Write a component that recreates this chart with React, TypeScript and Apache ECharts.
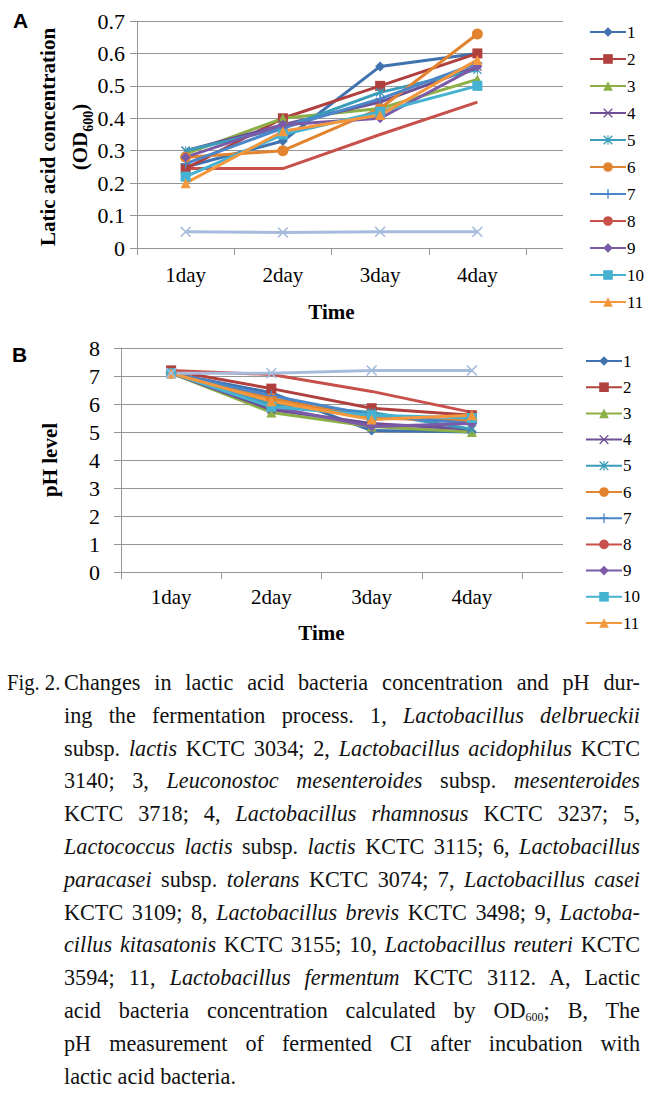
import React, { useEffect, useRef } from "react";
import * as echarts from "echarts";

const categories = ["1day", "2day", "3day", "4day"];
const strainNames = ["1", "2", "3", "4", "5", "6", "7", "8", "9", "10", "11"];
const strainColors = ["#3F72AF", "#B0403D", "#8DB046", "#6E5096", "#3A9DB9", "#E2842F", "#4A86C8", "#C8504B", "#7B5AA8", "#45B2D2", "#F5973C"];
const controlColor = "#A7BCDD";

// A: lactic acid concentration (OD600)
const odValues: number[][] = [
  [0.25, 0.33, 0.56, 0.6],
  [0.245, 0.4, 0.5, 0.6],
  [0.29, 0.4, 0.43, 0.52],
  [0.3, 0.38, 0.45, 0.56],
  [0.3, 0.37, 0.48, 0.55],
  [0.28, 0.3, 0.43, 0.66],
  [0.26, 0.37, 0.46, 0.57],
  [0.245, 0.245, 0.35, 0.45],
  [0.28, 0.38, 0.4, 0.56],
  [0.22, 0.35, 0.42, 0.5],
  [0.2, 0.36, 0.41, 0.58],
];
const odControl = [0.05, 0.048, 0.05, 0.05];

// B: pH level
const phValues: number[][] = [
  [7.1, 6.4, 5.05, 5.0],
  [7.2, 6.55, 5.85, 5.6],
  [7.1, 5.7, 5.2, 5.0],
  [7.1, 5.8, 5.3, 5.1],
  [7.1, 6.0, 5.7, 5.1],
  [7.1, 6.2, 5.5, 5.4],
  [7.1, 6.3, 5.6, 5.3],
  [7.2, 7.05, 6.45, 5.7],
  [7.1, 5.9, 5.2, 5.3],
  [7.1, 5.9, 5.6, 5.5],
  [7.1, 6.1, 5.45, 5.6],
];
const phControl = [7.1, 7.1, 7.2, 7.2];

const odTicks = ["0", "0.1", "0.2", "0.3", "0.4", "0.5", "0.6", "0.7"];

const X_PATH = "path://M1,0 L5,4 L9,0 L10,1 L6,5 L10,9 L9,10 L5,6 L1,10 L0,9 L4,5 L0,1 Z";
const STAR_PATH = "path://M1,0 L5,4 L9,0 L10,1 L6,5 L10,9 L9,10 L5,6 L1,10 L0,9 L4,5 L0,1 Z M4.4,0 L5.6,0 L5.6,10 L4.4,10 Z";
const PLUS_PATH = "path://M4.3,0 L5.7,0 L5.7,4.3 L10,4.3 L10,5.7 L5.7,5.7 L5.7,10 L4.3,10 L4.3,5.7 L0,5.7 L0,4.3 L4.3,4.3 Z";
const strainSymbols = ["diamond", "rect", "triangle", X_PATH, STAR_PATH, "circle", PLUS_PATH, "none", "diamond", "rect", "triangle"];
const strainSizes = [10, 10, 10, 9, 9, 11, 10, 0, 10, 10, 10];

const SERIF = '"Liberation Serif", "Times New Roman", serif';
const GRID_GRAY = "#959595";

function App() {
  const ref = useRef<HTMLDivElement>(null);

  useEffect(() => {
    document.body.style.margin = "0";
    if (!ref.current) return;
    const chart = echarts.init(ref.current, null, { renderer: "svg" });

    const mkSeries = (ai: number, values: number[][], control: number[]) => {
      const s: any[] = values.map((v, i) => ({
        name: strainNames[i],
        type: "line",
        xAxisIndex: ai,
        yAxisIndex: ai,
        data: v,
        symbol: strainSymbols[i],
        symbolSize: strainSizes[i],
        showSymbol: strainSymbols[i] !== "none",
        lineStyle: { width: 3, color: strainColors[i] },
        itemStyle: { color: strainColors[i] },
        emphasis: { disabled: true },
      }));
      s.push({
        name: "control",
        type: "line",
        xAxisIndex: ai,
        yAxisIndex: ai,
        data: control,
        symbol: X_PATH,
        symbolSize: 11,
        lineStyle: { width: 3, color: controlColor },
        itemStyle: { color: controlColor },
        emphasis: { disabled: true },
      });
      return s;
    };

    const hiddenX = (gi: number) => ({ type: "category", gridIndex: gi, data: categories, show: false });
    const dataX = (gi: number, labelMargin: number, nameGap: number) => ({
      type: "category",
      gridIndex: gi,
      data: categories,
      boundaryGap: true,
      axisLine: { lineStyle: { color: GRID_GRAY, width: 1 } },
      axisTick: { show: true, length: 7, lineStyle: { color: GRID_GRAY } },
      axisLabel: { fontFamily: SERIF, fontSize: 21, color: "#000", margin: labelMargin },
      name: "Time",
      nameLocation: "middle",
      nameGap,
      nameTextStyle: { fontFamily: SERIF, fontSize: 21, fontWeight: "bold", color: "#000" },
    });
    const bgY = (gi: number, max: number, interval: number) => ({
      type: "value",
      gridIndex: gi,
      min: 0,
      max,
      interval,
      axisLine: { show: false },
      axisTick: { show: false },
      axisLabel: { show: false },
      splitLine: { show: true, lineStyle: { color: GRID_GRAY, width: 1 } },
    });

    const legendCommon = (left: number, top: number, gap: number) => ({
      data: strainNames,
      orient: "vertical",
      left,
      top,
      itemWidth: 36,
      itemHeight: 12,
      itemGap: gap,
      selectedMode: false,
      textStyle: { fontFamily: SERIF, fontSize: 17, color: "#000", padding: [0, 0, 0, -4] },
    });

    const option: any = {
      animation: false,
      backgroundColor: "#fff",
      grid: [
        { left: 137, top: 21, width: 426, height: 227 },
        { left: 137, top: 21, width: 389, height: 227 },
        { left: 121, top: 348, width: 442, height: 224 },
        { left: 121, top: 348, width: 401, height: 224 },
      ],
      xAxis: [hiddenX(0), dataX(1, 16, 53), hiddenX(2), dataX(3, 14, 50)],
      yAxis: [
        bgY(0, 0.7, 0.1),
        {
          type: "value",
          gridIndex: 1,
          min: 0,
          max: 0.7,
          interval: 0.1,
          axisLine: { show: true, lineStyle: { color: GRID_GRAY } },
          axisTick: { show: true, length: 7, lineStyle: { color: GRID_GRAY } },
          splitLine: { show: false },
          axisLabel: {
            fontFamily: SERIF,
            fontSize: 22,
            color: "#000",
            margin: 12,
            formatter: (v: number) => odTicks[Math.round(v * 10)] ?? String(v),
          },
        },
        bgY(2, 8, 1),
        {
          type: "value",
          gridIndex: 3,
          min: 0,
          max: 8,
          interval: 1,
          axisLine: { show: true, lineStyle: { color: GRID_GRAY } },
          axisTick: { show: true, length: 7, lineStyle: { color: GRID_GRAY } },
          splitLine: { show: false },
          axisLabel: { fontFamily: SERIF, fontSize: 22, color: "#000", margin: 21 },
          name: "pH level",
          nameLocation: "middle",
          nameGap: 61,
          nameRotate: 90,
          nameTextStyle: { fontFamily: SERIF, fontSize: 21, fontWeight: "bold", color: "#000" },
        },
      ],
      legend: [legendCommon(584, 18.5, 10), legendCommon(580, 347.5, 9.2)],
      graphic: [
        {
          type: "text",
          left: 13,
          top: 10,
          style: { text: "A", fontFamily: '"Liberation Sans", Arial, sans-serif', fontSize: 21, fontWeight: "bold", fill: "#000" },
        },
        {
          type: "text",
          left: 12,
          top: 344,
          style: { text: "B", fontFamily: '"Liberation Sans", Arial, sans-serif', fontSize: 21, fontWeight: "bold", fill: "#000" },
        },
        {
          type: "text",
          x: 48,
          y: 137,
          rotation: Math.PI / 2,
          style: {
            text: "Latic acid concentration",
            fontFamily: SERIF,
            fontSize: 21,
            fontWeight: "bold",
            fill: "#000",
            align: "center",
            verticalAlign: "middle",
          },
        },
        {
          type: "text",
          x: 78,
          y: 137,
          rotation: Math.PI / 2,
          style: {
            text: "{a|(OD}{b|600}{a|)}",
            align: "center",
            verticalAlign: "middle",
            rich: {
              a: { fontFamily: SERIF, fontSize: 21, fontWeight: "bold", fill: "#000", lineHeight: 24, verticalAlign: "bottom" },
              b: { fontFamily: SERIF, fontSize: 14, fontWeight: "bold", fill: "#000", lineHeight: 24, verticalAlign: "bottom", padding: [0, 0, -5, 0] },
            },
          },
        },
      ],
      series: [...mkSeries(1, odValues, odControl), ...mkSeries(3, phValues, phControl)],
    };

    chart.setOption(option);
    return () => chart.dispose();
  }, []);

  const SX = 0.925;
  const LEFT = 64;
  const WIDTH = 576;
  const lineStyle: React.CSSProperties = {
    position: "absolute",
    left: LEFT,
    width: WIDTH / SX,
    height: 33,
    lineHeight: "33px",
    textAlign: "justify",
    textAlignLast: "justify" as any,
    whiteSpace: "normal",
    transform: `scaleX(${SX})`,
    transformOrigin: "0 0",
  };
  const top0 = 666;
  const step = 32.8;
  const lines: React.ReactNode[] = [
    <>Changes in lactic acid bacteria concentration and pH dur-</>,
    <>ing the fermentation process. 1, <i>Lactobacillus delbrueckii</i></>,
    <>subsp. <i>lactis</i> KCTC 3034; 2, <i>Lactobacillus acidophilus</i> KCTC</>,
    <>3140; 3, <i>Leuconostoc mesenteroides</i> subsp. <i>mesenteroides</i></>,
    <>KCTC 3718; 4, <i>Lactobacillus rhamnosus</i> KCTC 3237; 5,</>,
    <><i>Lactococcus lactis</i> subsp. <i>lactis</i> KCTC 3115; 6, <i>Lactobacillus</i></>,
    <><i>paracasei</i> subsp. <i>tolerans</i> KCTC 3074; 7, <i>Lactobacillus casei</i></>,
    <>KCTC 3109; 8, <i>Lactobacillus brevis</i> KCTC 3498; 9, <i>Lactoba-</i></>,
    <><i>cillus kitasatonis</i> KCTC 3155; 10, <i>Lactobacillus reuteri</i> KCTC</>,
    <>3594; 11, <i>Lactobacillus fermentum</i> KCTC 3112. A, Lactic</>,
    <>acid bacteria concentration calculated by OD<sub style={{ fontSize: "13px", verticalAlign: "-3px", lineHeight: 0 }}>600</sub>; B, The</>,
    <>pH measurement of fermented CI after incubation with</>,
  ];

  return (
    <div style={{ position: "relative", width: 665, height: 1093, background: "#fff", fontFamily: SERIF, fontSize: 24, color: "#111", overflow: "hidden" }}>
      <div ref={ref} style={{ position: "absolute", left: 0, top: 0, width: 665, height: 650 }} />
      <div style={{ position: "absolute", left: 7, top: top0, height: 33, lineHeight: "33px", whiteSpace: "nowrap", transform: "scaleX(0.86)", transformOrigin: "0 0" }}>Fig. 2.</div>
      {lines.map((l, i) => (
        <div key={i} style={{ ...lineStyle, top: top0 + i * step }}>{l}</div>
      ))}
      <div style={{ ...lineStyle, textAlign: "left", textAlignLast: "left" as any, top: top0 + 12 * step }}>lactic acid bacteria.</div>
    </div>
  );
}

export default App;
